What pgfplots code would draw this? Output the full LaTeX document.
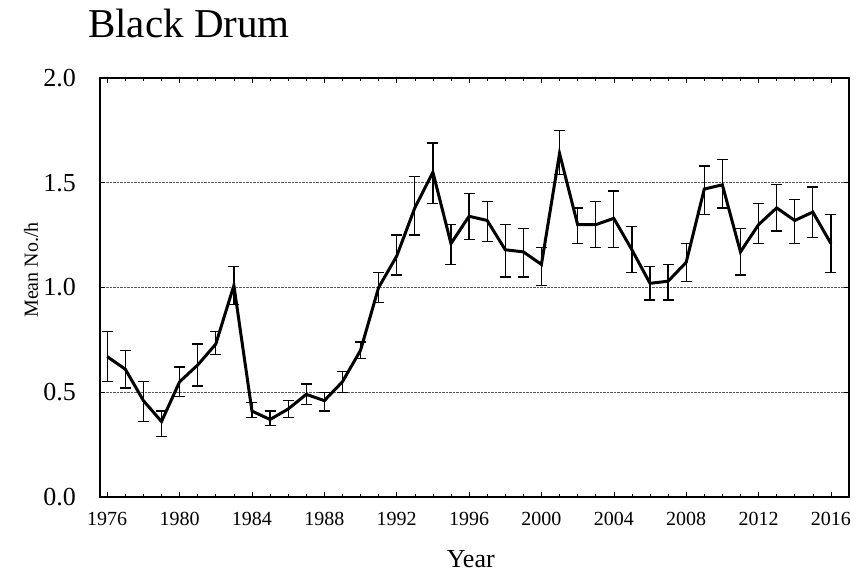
\documentclass[border=0pt]{standalone}
\usepackage{pgfplots}
\pgfplotsset{compat=1.18}
\usepackage{pgfplotstable}
\usepackage{fontspec}
\setmainfont{Liberation Serif}
\pgfplotstableread{
year y ep em
1976 0.67 0.12 0.12
1977 0.61 0.09 0.09
1978 0.46 0.09 0.10
1979 0.36 0.05 0.07
1980 0.55 0.07 0.07
1981 0.63 0.10 0.10
1982 0.73 0.06 0.05
1983 1.01 0.09 0.09
1984 0.41 0.04 0.03
1985 0.37 0.04 0.03
1986 0.42 0.04 0.04
1987 0.49 0.05 0.05
1988 0.46 0.04 0.05
1989 0.55 0.05 0.05
1990 0.70 0.04 0.04
1991 1.00 0.07 0.07
1992 1.15 0.10 0.09
1993 1.38 0.15 0.13
1994 1.55 0.14 0.15
1995 1.21 0.09 0.10
1996 1.34 0.11 0.11
1997 1.32 0.09 0.10
1998 1.18 0.12 0.13
1999 1.17 0.11 0.12
2000 1.11 0.08 0.10
2001 1.64 0.11 0.10
2002 1.30 0.08 0.09
2003 1.30 0.11 0.11
2004 1.33 0.13 0.14
2005 1.18 0.11 0.11
2006 1.02 0.08 0.08
2007 1.03 0.08 0.09
2008 1.12 0.09 0.09
2009 1.47 0.11 0.12
2010 1.49 0.12 0.11
2011 1.17 0.11 0.11
2012 1.30 0.10 0.09
2013 1.38 0.11 0.11
2014 1.32 0.10 0.11
2015 1.36 0.12 0.12
2016 1.21 0.14 0.14
}\datatable
\begin{document}
\begin{tikzpicture}
\path[use as bounding box] (0,0) rectangle (859pt,574pt);
\node[anchor=base west, inner sep=0pt, font=\fontsize{41}{45}\selectfont] at (88pt,536pt) {Black Drum};
\begin{axis}[
  at={(100pt,77pt)}, anchor=south west,
  scale only axis, width=749pt, height=419pt,
  xmin=1975.6, xmax=2017, ymin=0, ymax=2,
  xtick={1976,1980,...,2016},
  minor x tick num=3,
  ytick={0,0.5,...,2.0},
  tick align=inside,
  major tick length=5pt, minor tick length=3pt,
  every tick/.style={black, line width=0.6pt},
  axis line style={black, line width=1.3pt},
  ymajorgrids,
  major grid style={gray!70!black, densely dotted, line width=0.9pt},
  /pgf/number format/assume math mode=true,
  x tick label style={/pgf/number format/1000 sep={}, font=\fontsize{20}{23}\selectfont, anchor=north, inner sep=0pt, yshift=-15pt},
  y tick label style={/pgf/number format/fixed, /pgf/number format/fixed zerofill, /pgf/number format/precision=1, font=\fontsize{26}{30}\selectfont, anchor=east, inner sep=0pt, xshift=-24pt},
  xlabel={Year},
  ylabel={Mean No./h},
  xlabel style={font=\fontsize{26}{30}\selectfont, at={(axis description cs:0.495,0)}, anchor=base, yshift=-70pt},
  ylabel style={font=\fontsize{20}{24}\selectfont, at={(axis description cs:-0.092,0.542)}, anchor=center},
  clip=false,
]
\addplot[black, line width=3pt, line join=miter,
  error bars/.cd, y dir=both, y explicit,
  error bar style={line width=1.3pt, black},
  error mark options={rotate=90, mark size=5.5pt, line width=1.3pt, black}]
  table[x=year, y=y, y error plus=ep, y error minus=em] {\datatable};
\end{axis}
\end{tikzpicture}
\end{document}
